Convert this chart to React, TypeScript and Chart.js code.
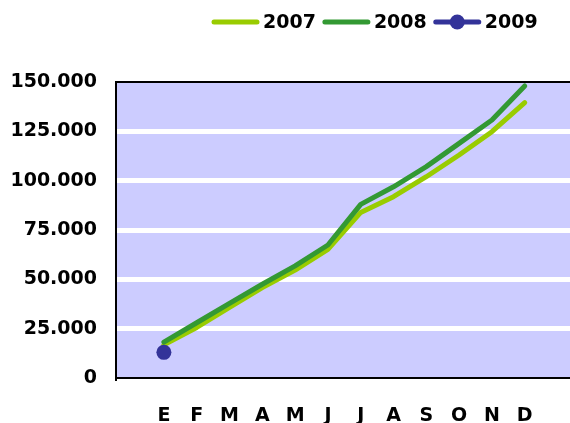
import React, { useEffect, useRef } from 'react';
import { Chart, registerables } from 'chart.js';

Chart.register(...registerables);

const months = ['E', 'F', 'M', 'A', 'M', 'J', 'J', 'A', 'S', 'O', 'N', 'D'];
const series2007 = [16800, 25600, 35800, 45800, 54700, 65200, 83900, 91900, 102000, 113000, 124800, 139500];
const series2008 = [18200, 28000, 37800, 47500, 56800, 67400, 88000, 96900, 107100, 118900, 130700, 148000];
const series2009 = [13000];
const seriesNames = ['2007', '2008', '2009'];
const seriesColors = ['#99CC00', '#339933', '#333399'];
const yTickValues = [0, 25000, 50000, 75000, 100000, 125000, 150000];

const FONT = "'DejaVu Sans', sans-serif";

const toPoints = (arr: number[]) => arr.map((y, i) => ({ x: i, y }));
const fmt = (v: number) => String(v).replace(/\B(?=(\d{3})+(?!\d))/g, '.');

const bgPlugin = {
  id: 'plotBg',
  beforeDraw(chart: any) {
    const { ctx, chartArea } = chart;
    ctx.save();
    ctx.fillStyle = '#CCCCFF';
    ctx.fillRect(chartArea.left, chartArea.top, chartArea.right - chartArea.left, chartArea.bottom - chartArea.top);
    ctx.restore();
  },
};

const legendPlugin = {
  id: 'customLegend',
  afterDraw(chart: any) {
    const { ctx } = chart;
    const ds = chart.data.datasets;
    ctx.save();
    ctx.font = `bold 19px ${FONT}`;
    ctx.textBaseline = 'middle';
    ctx.textAlign = 'left';
    let x = 212;
    const y = 22;
    const lineLen = 47;
    ds.forEach((d: any) => {
      ctx.strokeStyle = d.borderColor;
      ctx.lineWidth = 5;
      ctx.lineCap = 'round';
      ctx.beginPath();
      ctx.moveTo(x + 2, y);
      ctx.lineTo(x + lineLen - 2, y);
      ctx.stroke();
      if (d.pointRadius > 0) {
        ctx.fillStyle = d.backgroundColor;
        ctx.beginPath();
        ctx.arc(x + lineLen / 2, y, 7.5, 0, Math.PI * 2);
        ctx.fill();
      }
      const tx = x + lineLen + 4;
      ctx.fillStyle = '#000';
      ctx.fillText(d.label, tx, y + 1);
      x = tx + ctx.measureText(d.label).width + 7;
    });
    ctx.restore();
  },
};

export default function App() {
  const ref = useRef<HTMLCanvasElement>(null);

  useEffect(() => {
    if (!ref.current) return;
    const chart = new Chart(ref.current, {
      type: 'line',
      data: {
        datasets: [
          {
            label: seriesNames[0],
            data: toPoints(series2007),
            borderColor: seriesColors[0],
            backgroundColor: seriesColors[0],
            borderWidth: 5,
            pointRadius: 0,
            borderCapStyle: 'round',
            borderJoinStyle: 'round',
            order: 3,
          },
          {
            label: seriesNames[1],
            data: toPoints(series2008),
            borderColor: seriesColors[1],
            backgroundColor: seriesColors[1],
            borderWidth: 5,
            pointRadius: 0,
            borderCapStyle: 'round',
            borderJoinStyle: 'round',
            order: 2,
          },
          {
            label: seriesNames[2],
            data: toPoints(series2009),
            borderColor: seriesColors[2],
            backgroundColor: seriesColors[2],
            borderWidth: 5,
            pointRadius: 7.5,
            pointBorderWidth: 0,
            order: 1,
          },
        ],
      },
      options: {
        responsive: false,
        animation: false,
        devicePixelRatio: 1,
        layout: { autoPadding: false, padding: { top: 82, left: 0, right: 0, bottom: 0 } },
        plugins: {
          legend: { display: false },
          tooltip: { enabled: false },
          title: { display: false },
        },
        scales: {
          x: {
            type: 'linear',
            min: -1.46,
            max: 12.38,
            afterFit: (s: any) => {
              s.height = 45;
              s.paddingRight = 0;
              s.paddingLeft = 0;
            },
            afterBuildTicks: (s: any) => {
              s.ticks = months.map((_, i) => ({ value: i }));
            },
            ticks: {
              autoSkip: false,
              maxRotation: 0,
              padding: 27,
              color: '#000',
              font: { family: FONT, weight: 'bold', size: 19 },
              callback: (_v: any, i: number) => months[i],
            },
            grid: { display: false, drawTicks: false },
            border: { display: true, color: '#000', width: 2 },
          },
          y: {
            min: 0,
            max: 150000,
            afterFit: (s: any) => {
              s.width = 116;
              s.paddingTop = 0;
              s.paddingBottom = 0;
            },
            afterBuildTicks: (s: any) => {
              s.ticks = yTickValues.map((v) => ({ value: v }));
            },
            ticks: {
              padding: 19,
              color: '#000',
              font: { family: FONT, weight: 'bold', size: 19 },
              callback: (v: any) => fmt(Number(v)),
            },
            grid: {
              drawTicks: false,
              color: (c: any) => (c.tick && c.tick.value === 150000 ? '#000' : c.tick && c.tick.value === 0 ? 'rgba(0,0,0,0)' : '#FFFFFF'),
              lineWidth: (c: any) => (c.tick && c.tick.value === 150000 ? 2 : 5),
            },
            border: { display: true, color: '#000', width: 2 },
          },
        },
      },
      plugins: [bgPlugin, legendPlugin],
    } as any);
    return () => chart.destroy();
  }, []);

  return (
    <div style={{ position: 'fixed', left: 0, top: 0, width: 570, height: 423, background: '#fff' }}>
      <canvas ref={ref} width={570} height={423} style={{ display: 'block' }} />
    </div>
  );
}
